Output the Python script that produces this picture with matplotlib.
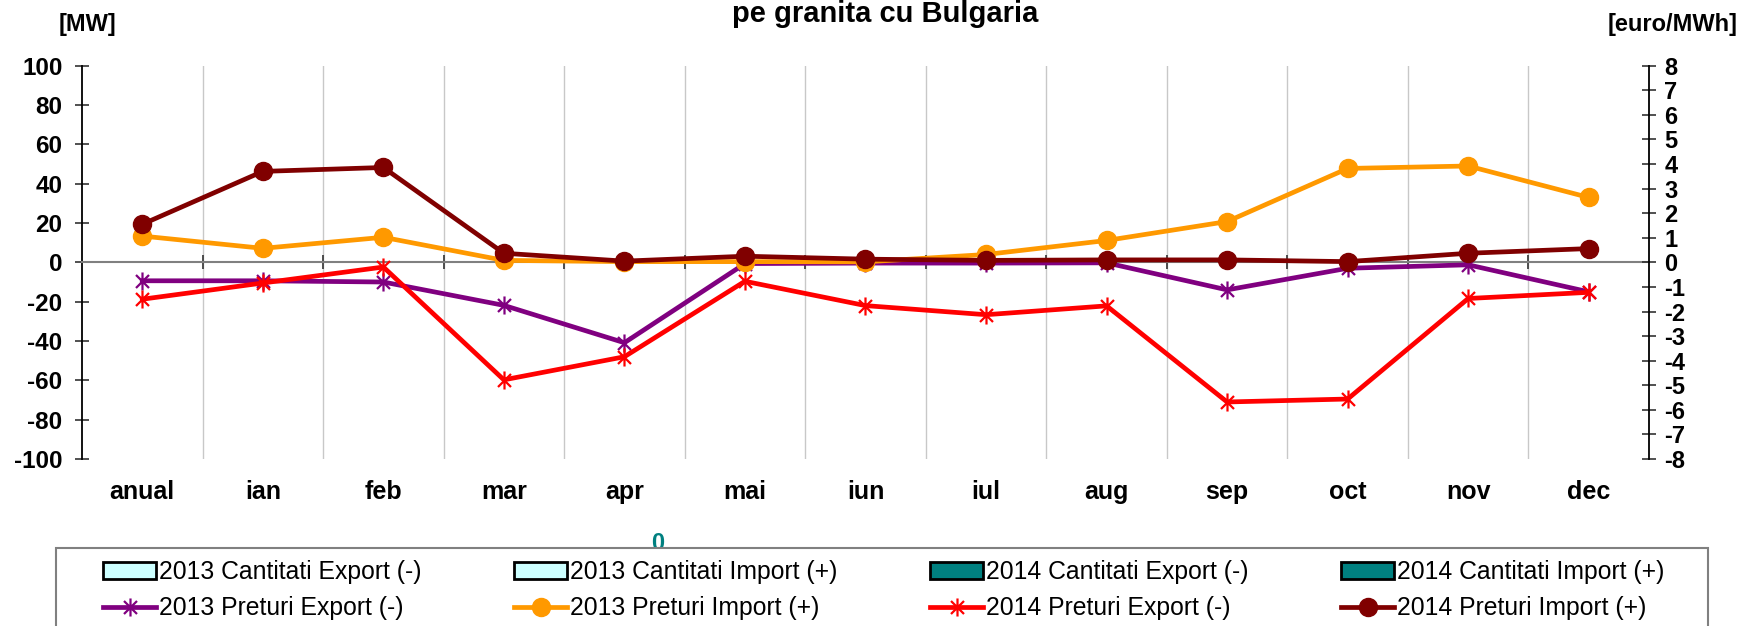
import numpy as np
import matplotlib
matplotlib.use("Agg")
import matplotlib.pyplot as plt
from matplotlib.path import Path
from matplotlib.patches import Patch, Rectangle
from matplotlib.lines import Line2D

plt.rcParams['font.family'] = ['Liberation Sans', 'DejaVu Sans']
plt.rcParams['axes.unicode_minus'] = False

categories = ["anual", "ian", "feb", "mar", "apr", "mai", "iun", "iul",
              "aug", "sep", "oct", "nov", "dec"]

# quantities [MW] (all zero)
q2013_export = [0] * 13
q2013_import = [0] * 13
q2014_export = [0] * 13
q2014_import = [0] * 13

# prices [euro/MWh]
p2013_export = [-0.75, -0.75, -0.8, -1.75, -3.27, -0.05, -0.03, -0.03, -0.02, -1.12, -0.24, -0.1, -1.2]
p2013_import = [1.07, 0.57, 1.02, 0.08, 0.03, 0.03, 0.02, 0.32, 0.89, 1.66, 3.82, 3.92, 2.64]
p2014_export = [-1.5, -0.84, -0.19, -4.78, -3.84, -0.77, -1.76, -2.13, -1.77, -5.68, -5.56, -1.47, -1.22]
p2014_import = [1.55, 3.7, 3.86, 0.37, 0.05, 0.25, 0.13, 0.08, 0.1, 0.1, 0.03, 0.37, 0.56]

W, H = 1745, 626
fig = plt.figure(figsize=(W / 100, H / 100), dpi=100)
fig.patch.set_facecolor('white')

L, R, T, B = 82, 1649, 65.7, 459
ax = fig.add_axes([L / W, 1 - B / H, (R - L) / W, (B - T) / H])
ax2 = ax.twinx()

x = np.arange(len(categories))

# bars (zero)
bw = 0.18
c_light = '#CCFFFF'
c_teal = '#008080'
ax.bar(x - 1.5 * bw, q2013_export, bw, color=c_light, lw=0)
ax.bar(x - 0.5 * bw, q2013_import, bw, color=c_light, lw=0)
ax.bar(x + 0.5 * bw, q2014_export, bw, color=c_teal, lw=0)
ax.bar(x + 1.5 * bw, q2014_import, bw, color=c_teal, lw=0)

ax.set_xlim(-0.5, len(categories) - 0.5)
ax.set_ylim(-100, 100)
ax.set_yticks(np.arange(-100, 101, 20))
for lab in ax.get_yticklabels():
    lab.set_fontweight('bold')
ax.tick_params(axis='y', direction='inout', length=10, width=1.2, labelsize=17.5, pad=9, color='#333333')

ax.spines['top'].set_visible(False)
ax.spines['right'].set_visible(False)
ax.spines['left'].set_linewidth(1.3)
ax.spines['bottom'].set_position(('data', 0))
ax.spines['bottom'].set_color('#808080')
ax.spines['bottom'].set_linewidth(1.5)
ax.set_xticks(np.arange(0.5, len(categories) - 1, 1))
ax.set_xticklabels([])
ax.tick_params(axis='x', direction='inout', length=10, width=1.3, color='#404040')
ax.grid(axis='x', color='#C8C8C8', lw=1)
ax.set_axisbelow(True)

sec = ax.secondary_xaxis('bottom')
sec.set_xticks(x)
sec.set_xticklabels(categories, fontsize=18, fontweight='bold')
sec.tick_params(length=0, pad=15)
sec.spines['bottom'].set_visible(False)

# right axis
ax2.set_ylim(-8, 8)
ax2.set_yticks(np.arange(-8, 9, 1))
for lab in ax2.get_yticklabels():
    lab.set_fontweight('bold')
ax2.tick_params(axis='y', direction='inout', length=10, width=1.2, labelsize=17, pad=6, color='#333333')
for s in ['top', 'left', 'bottom']:
    ax2.spines[s].set_visible(False)
ax2.spines['right'].set_linewidth(1.3)

star = Path([(0, -1), (0, 1), (-0.72, -0.72), (0.72, 0.72), (-0.72, 0.72), (0.72, -0.72)],
            [Path.MOVETO, Path.LINETO, Path.MOVETO, Path.LINETO, Path.MOVETO, Path.LINETO])

lw = 3.4
c_pur, c_org, c_red, c_dred = '#800080', '#FF9900', '#FF0000', '#800000'
ax2.plot(x, p2013_export, color=c_pur, lw=lw, marker=star, ms=13, mew=1.6, mec=c_pur)
ax2.plot(x, p2013_import, color=c_org, lw=lw, marker='o', ms=13, mec=c_org)
ax2.plot(x, p2014_export, color=c_red, lw=lw, marker=star, ms=13, mew=1.6, mec=c_red)
ax2.plot(x, p2014_import, color=c_dred, lw=lw, marker='o', ms=13, mec=c_dred)

# texts
fig.text(885 / W, 1 - 22 / H, "pe granita cu Bulgaria", ha='center', va='baseline',
         fontsize=21, fontweight='bold')
fig.text(87 / W, 1 - 24 / H, "[MW]", ha='center', va='center', fontsize=17, fontweight='bold')
fig.text(1673 / W, 1 - 24 / H, "[euro/MWh]", ha='center', va='center', fontsize=17, fontweight='bold')
fig.text(658 / W, 1 - 544 / H, "0", ha='center', va='center', fontsize=17, fontweight='bold',
         color=c_teal, zorder=2)

# legend frame
frame = Rectangle((56 / W, -0.1), (1708 - 56) / W, 1 - 548 / H + 0.1, transform=fig.transFigure,
                  facecolor='white', edgecolor='#808080', lw=1.5, zorder=4)
fig.add_artist(frame)

h_c13e = Patch(facecolor=c_light, edgecolor='black', lw=2)
h_c13i = Patch(facecolor=c_light, edgecolor='black', lw=2)
h_c14e = Patch(facecolor=c_teal, edgecolor='black', lw=2)
h_c14i = Patch(facecolor=c_teal, edgecolor='black', lw=2)
h_p13e = Line2D([], [], color=c_pur, lw=lw, marker=star, ms=13, mew=1.6, mec=c_pur)
h_p13i = Line2D([], [], color=c_org, lw=lw, marker='o', ms=13, mec=c_org)
h_p14e = Line2D([], [], color=c_red, lw=lw, marker=star, ms=13, mew=1.6, mec=c_red)
h_p14i = Line2D([], [], color=c_dred, lw=lw, marker='o', ms=13, mec=c_dred)

handles = [h_c13e, h_p13e, h_c13i, h_p13i, h_c14e, h_p14e, h_c14i, h_p14i]
labels = ["2013 Cantitati Export (-)", "2013 Preturi Export (-)",
          "2013 Cantitati Import (+)", "2013 Preturi Import (+)",
          "2014 Cantitati Export (-)", "2014 Preturi Export (-)",
          "2014 Cantitati Import (+)", "2014 Preturi Import (+)"]
leg = fig.legend(handles, labels, ncol=4, loc='upper left',
                 bbox_to_anchor=(103 / W, 1 - 560 / H, (1664 - 103) / W, 0),
                 mode='expand', borderaxespad=0, borderpad=0, frameon=False,
                 prop={'size': 17.8}, handlelength=2.15, handletextpad=0.1,
                 labelspacing=0.5, columnspacing=1.0)
leg.set_zorder(6)

fig.savefig("out.png", dpi=100, facecolor='white')
